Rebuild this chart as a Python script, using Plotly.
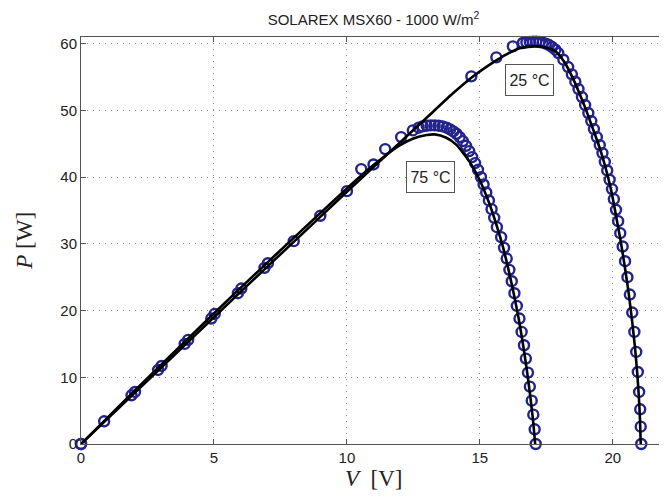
import plotly.graph_objects as go

# ---- data ----
# model curves (solid black lines)
v25_model = [0, 2, 4, 6, 8, 10, 11, 12, 13, 14, 14.68, 15.5, 16, 16.5, 17, 17.5, 17.87,
             18.2, 18.5, 18.75, 19, 19.2, 19.4, 19.6, 19.8, 19.95, 20.13, 20.3, 20.45,
             20.6, 20.72, 20.83, 20.92, 20.98, 21.02, 21.05]
p25_model = [0, 7.6, 15.2, 22.8, 30.3, 37.8, 41.5, 45.2, 48.9, 52.6, 54.9, 57.2, 58.4, 59.3,
             59.6, 59.4, 58.8, 57.1, 54.8, 52.5, 50.0, 47.8, 45.6, 43.2, 40.3, 37.8, 34.0,
             30.3, 26.6, 22.5, 18.6, 14.6, 10.5, 7.0, 3.8, 0]

v75_model = [0, 2, 4, 6, 8, 10, 11, 11.5, 12, 12.5, 13.0, 13.3, 13.74, 14.1, 14.6, 15.0,
             15.36, 15.62, 15.85, 16.05, 16.25, 16.45, 16.62, 16.77, 16.9, 17.0, 17.08]
p75_model = [0, 7.9, 15.7, 23.4, 30.9, 38.3, 41.8, 43.4, 44.8, 45.8, 46.3, 46.4, 45.9, 44.9,
             42.4, 39.5, 36.0, 32.9, 29.8, 26.6, 23.0, 19.0, 15.0, 11.0, 7.0, 3.5, 0]

# measured points (blue circles)
v25_meas = [0, 0.87, 1.9, 2.9, 3.9, 4.9, 5.9, 6.9, 8.0, 9.0, 10.0, 11.0, 14.68, 15.62,
            16.24, 16.62, 16.75, 16.88, 17.0, 17.12, 17.24, 17.36, 17.48, 17.6, 17.72,
            17.84, 17.95, 18.14, 18.32, 18.46, 18.59, 18.71, 18.84, 18.96, 19.08, 19.19,
            19.29, 19.4, 19.51, 19.61, 19.7, 19.79, 19.88, 19.97, 20.04, 20.12, 20.2,
            20.28, 20.37, 20.46, 20.55, 20.64, 20.73, 20.81, 20.88, 20.94, 20.99, 21.03,
            21.05, 21.07]
p25_meas = [0, 3.4, 7.3, 11.1, 15.0, 18.8, 22.6, 26.4, 30.4, 34.2, 37.9, 41.9, 55.1, 57.95,
            59.6, 60.1, 60.2, 60.25, 60.3, 60.3, 60.25, 60.15, 60.0, 59.8, 59.5,
            59.1, 58.6, 57.6, 56.5, 55.4, 54.3, 53.2, 52.0, 50.8, 49.6, 48.4,
            47.2, 46.0, 44.8, 43.6, 42.3, 41.0, 39.6, 38.2, 36.7, 35.1, 33.4,
            31.6, 29.6, 27.4, 25.0, 22.4, 19.7, 16.8, 13.8, 10.8, 7.8, 5.2,
            2.6, 0]

v75_meas = [0, 2.03, 3.03, 4.03, 5.03, 6.03, 7.03, 10.54, 11.44, 12.04, 12.48, 12.7, 12.85,
            13.0, 13.15, 13.3, 13.45, 13.6, 13.75, 13.88, 14.0, 14.12, 14.24, 14.36, 14.48,
            14.6, 14.71, 14.82, 14.93, 15.04, 15.14, 15.24, 15.34, 15.44, 15.54, 15.64,
            15.8, 15.91, 16.01, 16.11, 16.2, 16.3, 16.39, 16.49, 16.57, 16.66, 16.73,
            16.81, 16.88, 16.95, 17.01, 17.06, 17.1]
p75_meas = [0, 7.8, 11.7, 15.6, 19.5, 23.3, 27.1, 41.2, 44.2, 46.0, 47.0, 47.4, 47.6,
            47.7, 47.75, 47.75, 47.7, 47.6, 47.4, 47.15, 46.85, 46.5, 46.0, 45.4, 44.7,
            43.9, 43.0, 42.1, 41.1, 40.0, 38.9, 37.7, 36.5, 35.2, 33.9, 32.5,
            31.0, 29.4, 27.8, 26.1, 24.4, 22.6, 20.7, 18.8, 16.8, 14.8, 12.8,
            10.7, 8.6, 6.5, 4.4, 2.2, 0]

x_ticks = [0, 5, 10, 15, 20]
y_ticks = [0, 10, 20, 30, 40, 50, 60]
labels = [("25 °C", 16.85, 54.5), ("75 °C", 13.16, 40.0)]

FONT = "Liberation Sans, Arial, Helvetica, sans-serif"
BLUE = "#23238c"

fig = go.Figure()
for v, p in [(v25_meas, p25_meas), (v75_meas, p75_meas)]:
    fig.add_trace(go.Scatter(x=v, y=p, mode="markers",
                             marker=dict(symbol="circle-open", size=10, color=BLUE,
                                         line=dict(width=2.4, color=BLUE)),
                             showlegend=False, cliponaxis=False))
for v, p in [(v25_model, p25_model), (v75_model, p75_model)]:
    fig.add_trace(go.Scatter(x=v, y=p, mode="lines",
                             line=dict(color="black", width=2.6, shape="spline", smoothing=0.6),
                             showlegend=False))

for txt, x, y in labels:
    fig.add_annotation(x=x, y=y, text=txt, showarrow=False,
                       font=dict(family=FONT, size=16, color="#222"),
                       width=45, height=28,
                       bgcolor="white", bordercolor="#555", borderwidth=1, borderpad=1)

# axis titles
fig.add_annotation(xref="paper", yref="paper", x=0.5, y=-0.085, yanchor="middle",
                   text="<i>V</i>  [V]", showarrow=False,
                   font=dict(family="Liberation Serif, Times New Roman, serif", size=23, color="#222"))
fig.add_annotation(xref="paper", yref="paper", x=-0.097, y=0.5, xanchor="center",
                   text="<i>P</i> [W]", textangle=-90, showarrow=False,
                   font=dict(family="Liberation Serif, Times New Roman, serif", size=23, color="#222"))

axis_common = dict(showline=True, linecolor="#555", linewidth=1, mirror="ticks",
                   ticks="inside", ticklen=5, tickcolor="#555",
                   showgrid=True, gridcolor="#8c8c8c", griddash="1px,5px", gridwidth=1,
                   zeroline=False, tickfont=dict(family=FONT, size=15, color="#222"))

fig.update_xaxes(range=[0, 22], tickvals=x_ticks, **axis_common)
fig.update_yaxes(range=[0, 61], tickvals=y_ticks, **axis_common)

# the page adds an 8px body margin, so the figure is sized to fit the window
fig.update_layout(
    width=659, height=496,
    margin=dict(l=73, r=1, t=29, b=60),
    paper_bgcolor="white", plot_bgcolor="white",
    title=dict(text="SOLAREX MSX60 - 1000 W/m<sup>2</sup>", x=0.5, xref="paper",
               xanchor="center", y=1 - 12 / 496, yanchor="middle", yref="container",
               font=dict(family=FONT, size=15, color="#222")),
)

fig.write_html("out.html")
